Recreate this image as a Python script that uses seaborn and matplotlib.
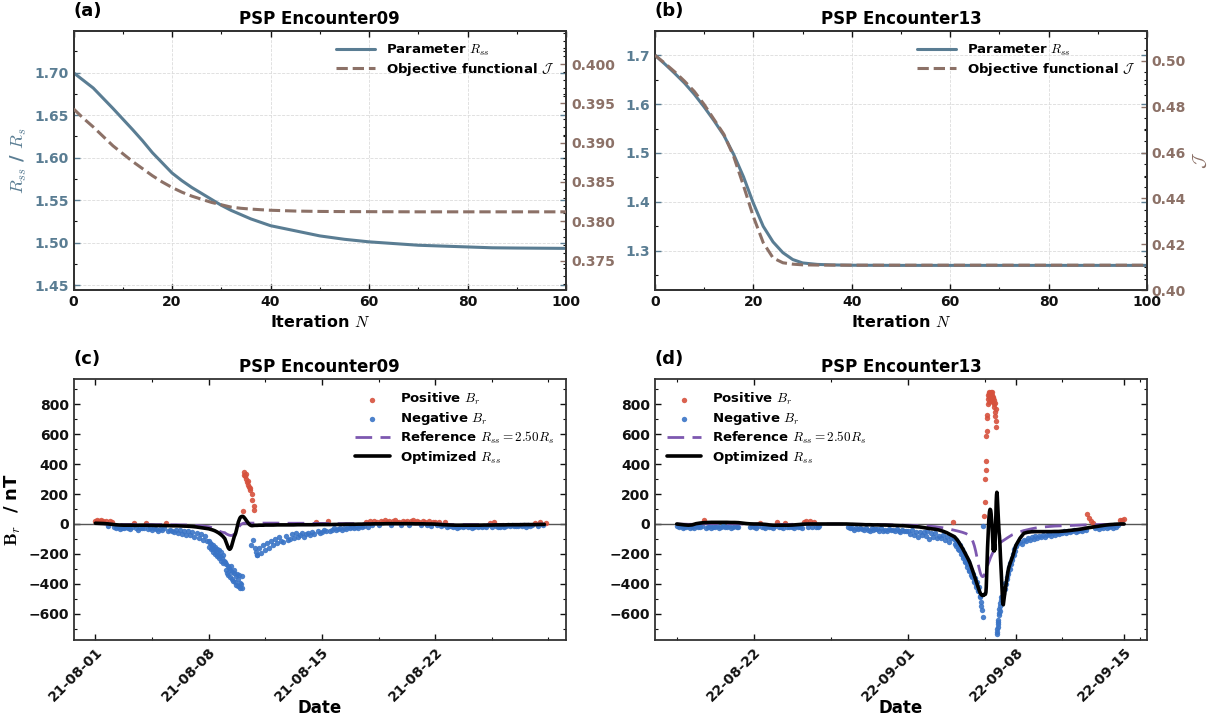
import numpy as np
import pandas as pd
import matplotlib
matplotlib.use("Agg")
import matplotlib.pyplot as plt
from matplotlib.ticker import AutoMinorLocator, MultipleLocator
import matplotlib.dates as mdates
import seaborn as sns

# ---------------- optimisation histories ----------------
iter_e09 = [0, 2, 4, 6, 8, 10, 12, 14, 16, 18, 20, 22, 24, 26, 28, 30, 32, 34, 36, 38, 40,
            45, 50, 55, 60, 65, 70, 75, 80, 85, 90, 95, 100]
rss_e09 = [1.700, 1.691, 1.682, 1.670, 1.658, 1.6455, 1.633, 1.620, 1.606, 1.594, 1.582,
           1.573, 1.565, 1.558, 1.551, 1.544, 1.538, 1.533, 1.528, 1.524, 1.520,
           1.514, 1.508, 1.504, 1.501, 1.499, 1.497, 1.496, 1.495, 1.494, 1.4937, 1.4935, 1.4933]
obj_e09 = [0.3943, 0.3931, 0.3920, 0.3908, 0.3896, 0.3886, 0.3876, 0.3867, 0.3858, 0.3850, 0.3843,
           0.3837, 0.3832, 0.3828, 0.3824, 0.3821, 0.3818, 0.38165, 0.38155, 0.38147, 0.3814,
           0.3813, 0.38125, 0.38123, 0.38122, 0.38121, 0.3812, 0.3812, 0.3812, 0.3812, 0.3812, 0.3812, 0.3812]

iter_e13 = [0, 2, 4, 6, 8, 10, 12, 14, 16, 18, 20, 22, 24, 26, 28, 30, 33, 36, 40,
            50, 60, 70, 80, 90, 100]
rss_e13 = [1.700, 1.682, 1.663, 1.643, 1.620, 1.594, 1.566, 1.536, 1.497, 1.451, 1.397,
           1.350, 1.318, 1.296, 1.282, 1.275, 1.272, 1.271, 1.2703,
           1.270, 1.270, 1.270, 1.270, 1.270, 1.270]
obj_e13 = [0.5025, 0.4990, 0.4953, 0.4912, 0.4867, 0.4810, 0.4745, 0.4680, 0.4583, 0.4455, 0.4320,
           0.4207, 0.4140, 0.4119, 0.4113, 0.4110, 0.4109, 0.41087, 0.41085,
           0.41085, 0.41085, 0.41085, 0.41085, 0.41085, 0.41085]

# ---------------- in-situ Br (nT); one row per day, samples evenly spaced within the day ----------------
start_e09 = "2021-08-01"
br_obs_e09 = [
    [22, 25, 18, 24, 20, 17, -15, 21],
    [15, -20, -28, -22, -35, -25, -30, -18],
    [-25, -32, -20, 9, -28, -38, -24, -30],
    [-30, 8, -35, -28, -40, -26, -33, -45],
    [-35, -42, -30, 9, -48, -38, -45, -52],
    [-40, -60, -38, -65, -50, -72, -45, -75],
    [-55, -85, -62, -95, -70, -105, -80, -115],
    [-115, -155, -125, -170, -135, -160, -185, -140, -170, -200, -155, -190,
     -215, -165, -205, -230, -175, -215, -245, -190, -230, -260, -205, -250],
    [-255, -310, -270, -330, -280, -340, -295, -355, -305, -280, -365, -320,
     -380, -330, -305, -390, -345, -405, -335, -415, -370, -340, -430, -395],
    [-400, -430, -345, 90, 330, 345, 320, 300, 335, 280, 260, 290,
     250, 240, 225, -140, 200, 160, -110, 120, 95, -160, -190, -205],
    [-205, -160, -195, -140, -175, -130, -160, -115],
    [-140, -100, -130, -85, -115, -120, -80, -105],
    [-100, -70, -95, -62, -90, -72, -58, -85],
    [-70, -60, -75, -55, -65, 16, -50, -60],
    [-55, -40, -50, 18, -45, -40, -30, -42],
    [-35, -28, -40, -25, -32, -20, -30, -22],
    [-25, -18, -28, -12, -20, -15, 12, -18],
    [18, -8, 22, 15, -5, 20, 12, 25],
    [15, 20, -6, 18, 24, 10, 16, -8],
    [20, 14, 22, -5, 17, 25, 12, 18],
    [15, -10, 20, 12, -8, 18, -12, 14],
    [16, -10, 12, -15, -8, 10, -18, -12],
    [-15, -20, -12, -25, -18, -14, -22, -16],
    [-20, -14, -24, -18, -12, -22, -16, -20],
    [-15, -22, -10, 8, -18, 10, -14, -20],
    [-18, -12, -20, -15, -10, -16, -8, -14],
    [-12, -16, -8, -14, -10, -18, -6, -12],
    [-10, 8, -12, 10, -8, 6],
]
br_opt_e09 = [
    [5, 4, 3, 1], [-2, -5, -7, -8], [-8, -8, -9, -8], [-8, -9, -9, -10],
    [-10, -10, -11, -12], [-12, -13, -14, -15], [-17, -20, -24, -28],
    [-32, -36, -40, -45, -52, -60, -70, -82],
    [-98, -110, -123, -136, -148, -158, -165, -169, -167, -160, -148, -132,
     -115, -98, -84, -74, -62, -45, -25, -5, 12, 25, 36, 44],
    [48, 50, 51, 50, 47, 42, 36, 30, 24, 17, 10, 4,
     -1, -5, -8, -10, -11, -11, -10, -10, -9, -9, -9, -9],
    [-9, -8, -8, -8, -7, -7, -7, -7],
    [-7, -6, -6, -6], [-6, -6, -5, -5], [-5, -5, -5, -4], [-4, -4, -4, -3],
    [-3, -3, -2, -2], [-2, -1, -1, 0], [0, 1, 1, 1], [2, 2, 2, 2],
    [2, 2, 2, 1], [1, 1, 0, 0], [-1, -3, -5, -6], [-7, -8, -8, -8],
    [-8, -8, -8, -8], [-7, -7, -7, -6], [-6, -6, -5, -5], [-5, -5, -4, -4],
    [-4, -4, -3, -3],
]
br_ref_e09 = [
    [3, 2, 1, 0], [-1, -2, -3, -3], [-3, -3, -3, -3], [-3, -3, -4, -4],
    [-4, -4, -5, -5], [-5, -6, -6, -7], [-8, -10, -12, -15],
    [-18, -22, -27, -33, -40, -46, -52, -56],
    [-58, -62, -65, -68, -70, -72, -74, -75, -76, -77, -77, -76,
     -74, -71, -67, -62, -56, -49, -41, -33, -25, -18, -12, -7],
    [-3, 0, 2, 4, 5, 6, 6, 6, 6, 6, 6, 6,
     6, 6, 6, 6, 6, 6, 6, 6, 6, 6, 6, 6],
    [6, 6, 6, 6, 6, 6, 6, 6],
    [6, 6, 5, 5], [5, 5, 5, 5], [5, 4, 4, 4], [4, 4, 4, 3], [3, 3, 3, 3],
    [3, 2, 2, 2], [2, 2, 2, 2], [2, 2, 2, 2], [2, 2, 2, 1], [1, 1, 1, 0],
    [0, -1, -2, -3], [-3, -3, -3, -3], [-3, -3, -3, -3], [-3, -3, -3, -3],
    [-3, -2, -2, -2], [-2, -2, -2, -2], [-2, -2, -1, -1],
]

start_e13 = "2022-08-17"
br_obs_e13 = [
    [-15, -22, -12, -25, -18, -20, -14, -24],
    [-18, -26, -15, -20, -22, -16, 28, -24],
    [-20, -14, -25, -18, -22, -12, -24, -17],
    [-16, -23, -19, -13, -26, -20, -15, -22],
    [-18, None, None, None, None, None, -21, -14],
    [-19, -25, -16, 7, -22, -18, -24, -15],
    [-21, -17, -26, -14, 10, -22, -19, -25],
    [9, -18, -23, -16, -20, -27, -15, -22],
    [-19, -24, 12, 18, -17, 20, -21, 14],
    [-18, -23, -16, None, None, None, None, None],
    [None, None, None, None, None, None, None, None],
    [None, -22, -30, -26, -38, -28, -34, -25],
    [-32, -42, -28, -38, -46, -30, -40, -33],
    [-36, -44, -30, -50, -38, -46, -34, -42],
    [-40, -48, -35, -45, -52, -38, -44, -50],
    [-45, -68, -40, -75, -52, -90, -55, -72],
    [-55, -80, -50, -100, -62, -85, -58, -95],
    [-80, -95, -75, -110, -88, -120, -92, 15],
    [-100, -135, -105, -145, -130, -165, -125, -175, -160, -140, -200, -185,
     -170, -225, -215, -195, -255, -245, -225, -285, -270, -250, -315, -305],
    [-300, -340, -310, -355, -350, -335, -390, -380, -360, -420, -410, -390,
     -450, -440, -420, -485, -480, -520, -545, -575, -620, -12, 55, 150],
    [300, 360, 420, 590, 620, 710, 725, 800, 835, 860, 815, 875,
     850, 880, 840, 870, 860, 885, 845, 870, 825, 860, 880, 840,
     815, 850, 800, 830, 780, 810, 750, 720, 770, 690, 650, -735,
     -720, -700, -690, -665, -640, -655, -610, -595, -570, -580, -545, -530],
    [-510, -485, -490, -460, -465, -430, -435, -395, -400, -355, -370, -320,
     -335, -290, -300, -260, -270, -230, -240, -200, -210, -170, -180, -150],
    [-145, -130, -120, -135, -105, -115, -95, -108],
    [-90, -100, -82, -95, -78, -88, -72, -85],
    [-75, -65, -80, -60, -72, -58, -68, -55],
    [-62, -50, -58, -45, -55, -48, -42, -52],
    [-45, -38, -48, -35, -40, 65, 40, 20],
    [8, -30, -22, -35, -18, -28, -15, -25],
    [-20, -12, -25, -8, -18, -5, 25, 30],
    [35],
]
br_opt_e13 = [
    [0, -3, -6, -8], [-6, 2, 6, 9], [10, 11, 11, 11], [11, 11, 10, 10],
    [9, 6, 3, 1], [0, 0, -1, -3], [-6, -8, -8, -8], [-8, -8, -7, -5],
    [-3, -1, 0, 0], [0, 0, 0, 0], [0, 0, 0, 0], [0, -1, -2, -3],
    [-4, -5, -5, -6], [-6, -7, -7, -8], [-9, -10, -11, -12], [-14, -16, -18, -20],
    [-24, -28, -32, -35], [-40, -48, -58, -72],
    [-85, -89, -94, -99, -104, -110, -116, -123, -130, -137, -144, -151,
     -158, -166, -174, -182, -190, -198, -206, -214, -222, -231, -240, -249],
    [-258, -270, -282, -295, -308, -320, -333, -346, -359, -372, -385, -398,
     -411, -424, -437, -450, -460, -468, -473, -476, -478, -476, -470, -472],
    [-470, -465, -455, -420, -350, -280, -210, -160, -110, -60, -10, 30,
     60, 80, 92, 98, 96, 88, 70, 45, 20, -10, -50, -100,
     -150, -175, -160, -120, -180, -140, -170, -100, -30, 60, 150, 195,
     212, 200, 160, 110, 60, 20, -20, -60, -80, -110, -170, -210],
    [-250, -340, -430, -520, -540, -505, -470, -440, -410, -380, -350, -325,
     -300, -285, -270, -258, -245, -234, -222, -210, -195, -180, -165, -150],
    [-140, -95, -62, -55], [-52, -51, -51, -51], [-51, -51, -50, -50],
    [-48, -46, -43, -40], [-37, -33, -28, -24], [-20, -16, -12, -8],
    [-5, -3, -1, 0], [0],
]
br_ref_e13 = [
    [0, -1, -1, -2], [-2, -1, 0, 1], [2, 2, 2, 2], [2, 2, 2, 1], [1, 0, 0, -1],
    [-1, -1, -2, -2], [-2, -3, -3, -3], [-3, -3, -2, -2], [-1, -1, 0, 0],
    [0, 0, 0, 0], [0, 0, 0, -1], [-1, -1, -2, -2], [-2, -3, -3, -3],
    [-4, -4, -5, -5], [-6, -6, -7, -8], [-8, -9, -10, -11], [-12, -14, -16, -18],
    [-22, -25, -30, -36], [-42, -48, -55, -64],
    [-80, -86, -93, -101, -110, -120, -132, -146, -162, -180, -200, -222,
     -245, -267, -288, -307, -323, -336, -345, -350, -352, -350, -343, -333],
    [-320, -308, -296, -284, -272, -260, -248, -237, -226, -216, -206, -197,
     -188, -180, -173, -166, -160, -154, -148, -143, -138, -134, -130, -126],
    [-122, -105, -88, -72], [-62, -52, -44, -38], [-32, -27, -23, -20],
    [-18, -16, -14, -13], [-12, -11, -10, -9], [-8, -7, -6, -5],
    [-4, -4, -3, -3], [-2, -2, -1, -1], [0],
]

# ---------------- style ----------------
STEEL = "#5a7d93"
BROWN = "#8c7167"
RED = "#d6513d"
BLUE = "#3a74c6"
PURPLE = "#7d58b0"

sns.set_theme(style="ticks")
plt.rcParams.update({
    "font.family": ["DejaVu Sans"],
    "font.weight": "bold",
    "axes.labelweight": "bold",
    "axes.titleweight": "bold",
    "mathtext.fontset": "cm",
    "xtick.direction": "in", "ytick.direction": "in",
    "xtick.top": True, "ytick.right": True,
    "xtick.major.size": 4, "ytick.major.size": 4,
    "xtick.minor.size": 2.2, "ytick.minor.size": 2.2,
    "xtick.major.width": 1.0, "ytick.major.width": 1.0,
    "xtick.minor.width": 0.8, "ytick.minor.width": 0.8,
    "xtick.labelsize": 10, "ytick.labelsize": 10,
    "axes.edgecolor": "#333333", "axes.linewidth": 1.3,
    "xtick.color": "#111111", "ytick.color": "#111111",
    "axes.labelcolor": "black", "text.color": "black",
    "legend.fontsize": 9.5,
})
LEG_PROP = {"weight": "bold", "size": 9.5}


def expand(rows, start):
    """Turn per-day rows of samples into a time-stamped frame."""
    t0 = pd.Timestamp(start)
    times, vals = [], []
    for d, row in enumerate(rows):
        n = len(row)
        for i, v in enumerate(row):
            times.append(t0 + pd.Timedelta(days=d + i / n))
            vals.append(np.nan if v is None else float(v))
    return pd.DataFrame({"date": times, "br": vals})


def panel_tag(ax, tag, title):
    ax.set_title(title, fontsize=12, fontweight="bold", pad=5)
    ax.text(0.0, 1.077, tag, transform=ax.transAxes, ha="left", va="center",
            fontsize=13, fontweight="bold")


def history_panel(ax, iters, rss, obj, ylim_l, ylim_r, step_l, step_r, left_label, right_label):
    hist = pd.DataFrame({"N": iters, "rss": rss, "obj": obj})
    sns.lineplot(data=hist, x="N", y="rss", color=STEEL, lw=2.2, ax=ax,
                 estimator=None, errorbar=None, zorder=3)
    h_r = ax.lines[-1]
    ax2 = ax.twinx()
    sns.lineplot(data=hist, x="N", y="obj", color=BROWN, lw=2.2, ls="--", ax=ax2,
                 estimator=None, errorbar=None, zorder=3)
    h_j = ax2.lines[-1]

    ax.set_xlim(0, 100)
    ax.set_ylim(*ylim_l)
    ax2.set_ylim(*ylim_r)
    ax.xaxis.set_major_locator(MultipleLocator(20))
    ax.xaxis.set_minor_locator(AutoMinorLocator(2))
    ax.yaxis.set_major_locator(MultipleLocator(step_l))
    ax.yaxis.set_minor_locator(AutoMinorLocator(2))
    ax2.yaxis.set_major_locator(MultipleLocator(step_r))
    ax2.yaxis.set_minor_locator(AutoMinorLocator())

    ax.grid(True, which="major", color="#dcdcdc", ls="--", lw=0.6)
    ax.tick_params(axis="x", which="both", top=True, bottom=True, direction="in")
    ax.tick_params(axis="y", which="both", left=True, right=True, direction="in")
    ax.tick_params(axis="y", which="major", colors=STEEL)
    ax2.tick_params(axis="y", which="both", direction="in")
    ax2.tick_params(axis="y", which="major", colors=BROWN)
    for lab in ax.get_yticklabels() + ax2.get_yticklabels() + ax.get_xticklabels():
        lab.set_fontweight("bold")

    ax.set_xlabel("Iteration $N$", fontsize=11.5, fontweight="bold")
    ax.set_ylabel(left_label, color=STEEL, fontsize=13)
    ax2.set_ylabel(right_label, color=BROWN, fontsize=13)
    ax2.legend([h_r, h_j], ["Parameter $R_{ss}$", "Objective functional $\\mathcal{J}$"],
               loc="upper right", frameon=False, prop=LEG_PROP,
               handlelength=3.0, labelspacing=0.2)
    return ax2


def field_panel(ax, obs_rows, ref_rows, opt_rows, start, xlim_days, legend_loc, ylabel):
    obs = expand(obs_rows, start)
    ref = expand(ref_rows, start)
    opt = expand(opt_rows, start)
    pos = obs[obs["br"] > 0]
    neg = obs[obs["br"] <= 0]

    ax.axhline(0, color="#555555", lw=1.0, zorder=1.5)
    sns.scatterplot(data=pos, x="date", y="br", color=RED, s=15, linewidth=0,
                    alpha=0.9, ax=ax, zorder=2)
    h_pos = ax.collections[-1]
    sns.scatterplot(data=neg, x="date", y="br", color=BLUE, s=15, linewidth=0,
                    alpha=0.9, ax=ax, zorder=2)
    h_neg = ax.collections[-1]
    sns.lineplot(data=ref, x="date", y="br", color=PURPLE, lw=2.0,
                 linestyle=(0, (6, 3)), ax=ax, estimator=None, errorbar=None, zorder=3)
    h_ref = ax.lines[-1]
    sns.lineplot(data=opt, x="date", y="br", color="black", lw=2.6,
                 ax=ax, estimator=None, errorbar=None, zorder=4)
    h_opt = ax.lines[-1]

    t0 = pd.Timestamp(start)
    ax.set_xlim(t0 + pd.Timedelta(days=xlim_days[0]), t0 + pd.Timedelta(days=xlim_days[1]))
    ax.set_ylim(-775, 967)
    ax.yaxis.set_major_locator(MultipleLocator(200))
    ax.yaxis.set_minor_locator(AutoMinorLocator(2))
    ax.xaxis.set_major_locator(mdates.DayLocator(bymonthday=[1, 8, 15, 22]))
    ax.xaxis.set_major_formatter(mdates.DateFormatter("%y-%m-%d"))
    ax.xaxis.set_minor_locator(AutoMinorLocator(2))
    ax.tick_params(axis="both", which="both", direction="in",
                   top=True, bottom=True, left=True, right=True)
    for lab in ax.get_xticklabels():
        lab.set_rotation(45)
        lab.set_ha("right")
        lab.set_rotation_mode("anchor")
        lab.set_fontweight("bold")
    for lab in ax.get_yticklabels():
        lab.set_fontweight("bold")

    ax.set_xlabel("Date", fontsize=12, fontweight="bold")
    ax.xaxis.set_label_coords(0.5, -0.225)
    ax.set_ylabel(ylabel, fontsize=13)
    ax.legend([h_pos, h_neg, h_ref, h_opt],
              ["Positive $B_r$", "Negative $B_r$",
               "Reference $R_{ss}=2.50R_s$", "Optimized $R_{ss}$"],
              loc=legend_loc, frameon=False, prop=LEG_PROP, handlelength=2.6,
              labelspacing=0.2, markerscale=1.0, scatterpoints=1)


fig = plt.figure(figsize=(12.3, 7.22), dpi=100)
ax_a = fig.add_axes([0.0598, 0.5983, 0.4004, 0.3591])
ax_b = fig.add_axes([0.5325, 0.5983, 0.4000, 0.3591])
ax_c = fig.add_axes([0.0598, 0.1136, 0.4004, 0.3611])
ax_d = fig.add_axes([0.5325, 0.1136, 0.4000, 0.3611])

history_panel(ax_a, iter_e09, rss_e09, obj_e09, (1.4443, 1.7494), (0.37125, 0.40424),
              0.05, 0.005, "$R_{ss}$ / $R_s$", "")
panel_tag(ax_a, "(a)", "PSP Encounter09")

history_panel(ax_b, iter_e13, rss_e13, obj_e13, (1.2196, 1.750), (0.400, 0.5132),
              0.1, 0.02, "", "$\\mathcal{J}$")
panel_tag(ax_b, "(b)", "PSP Encounter13")

field_panel(ax_c, br_obs_e09, br_ref_e09, br_opt_e09, start_e09, (-1.35, 29.09),
            "upper right", "$\\mathbf{B}_r$  / nT")
panel_tag(ax_c, "(c)", "PSP Encounter09")

field_panel(ax_d, br_obs_e13, br_ref_e13, br_opt_e13, start_e13, (-1.41, 30.48),
            "upper left", "")
panel_tag(ax_d, "(d)", "PSP Encounter13")

fig.savefig("out.png", dpi=100, facecolor="white")
